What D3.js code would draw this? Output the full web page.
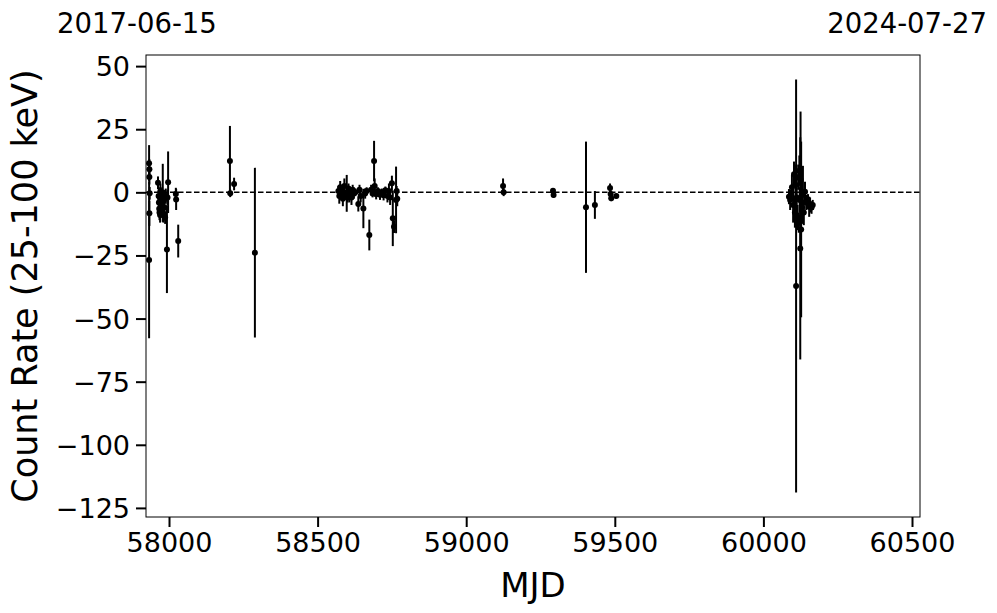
<!DOCTYPE html>
<html><head><meta charset="utf-8">
<script src="https://cdn.jsdelivr.net/npm/d3@7"></script>
<style>
body{margin:0;background:#fff;}
svg{display:block;font-family:"DejaVu Sans",sans-serif;}
</style></head>
<body><svg id="c" width="997" height="613"></svg>
<script>
// MJD of each observation
const mjd = [
 57933,57934,57934,57935,57934,57933,
 57963,57965,57966,57967,57968,57969,57970,57971,57972,57975,57977,57979,57981,57983,57985,57987,57989,57993,57997,57995,
 58023,58024,58031,
 58205,58206,58219,58289,
 58570,58573,58576,58579,58582,58585,58588,58590,58593,58598,58601,58604,58607,58610,58614,58618,58622,58627,58637,58641,58645,58654,58660,58665,58674,58680,58685,58690,58692,58697,58703,58710,58716,58722,58728,58735,58740,58744,58750,58753,58757,58764,58766,58768,
 59124,59126,59292,59294,59403,59433,59484,59486,59488,59505,
 60086,60090,60096,60100,60103,60106,60108,60110,60112,60115,60117,60119,60121,60122,60124,60125,60127,60130,60133,60136,60140,60144,60150,60154,60157,60162,60166
];
// count rate (25-100 keV)
const rate = [
 11.5,9.1,6.1,-0.4,-8.3,-26.8,
 3.8,-1.5,-4,-6.5,-8,-2,-9,0.5,-5,-7,-3,-0.2,-9,-3,-6,-10,-1.5,-22.6,4.0,-2,
 -0.7,-2.8,-19.3,
 12.4,-0.4,3.3,-23.9,
 0.5,-1.5,2,-0.5,1,-2.5,0,2.5,-1,-0.4,-2,1.5,-1,0.5,-2,1,-0.5,0,-4.6,1,-1.5,-6.4,-0.5,0.5,-16.9,1,-0.5,12.4,2.5,-0.8,0.5,-1,0,-1.2,0.8,-1.5,0.5,-2,3.6,-10.3,-13.6,-3,0.5,-2.5,
 2.5,0,0.6,-1.1,-5.9,-5,1.7,-0.7,-2.3,-1.5,
 -1.7,-3,2,-5,7.2,-8,3,-37.1,-2,-10,6,-12,8.6,-3,-22.2,5,-14.7,-6,-1,-8,0.2,-4,-3.7,-5.7,-5,-6,-5
];
// 1-sigma error
const err = [
 7.2,4,3,2.5,5,31,
 2.5,2,3,3,3,4,3,3,4,3,5,11.5,3,4,5,2.5,3,17.3,12.2,3,
 2.5,4.2,6.5,
 13.9,1.5,2.5,33.6,
 2,3,2.5,1.5,2,3,1.5,3,2,7.3,2,2,3,1.5,3,2,2,1.5,3,2,2.5,7.8,2,1.5,6.1,2,1.5,8,3,2,1.5,2,1.5,2,1.5,2.5,3,3,3,11,2.5,13.2,2,3,
 3,1.5,1,1,26,5.5,1.8,1.5,1.2,1,
 3,4,5,7,5,6,8,81.8,4,5,5,4,6,5,44,27,34.8,4,11.5,5,4,3,3,4,3,2.5,2
];
const xTicks = [58000,58500,59000,59500,60000,60500];
const yTicks = [50,25,0,-25,-50,-75,-100,-125];
const dateLabels = ["2017-06-15","2024-07-27"];

const L=146,R=920,T=55,B=517;
const x = d3.scaleLinear().domain([57922.6,60526.9]).range([L,R]);
const y = d3.scaleLinear().domain([-128.6,54.4]).range([B,T]);
const svg = d3.select("#c");
const data = mjd.map((m,i)=>({m, v:rate[i], e:err[i]}));

svg.append("clipPath").attr("id","cl").append("rect")
  .attr("x",L).attr("y",T).attr("width",R-L).attr("height",B-T);
const g = svg.append("g").attr("clip-path","url(#cl)");

g.append("line").attr("x1",L).attr("x2",R).attr("y1",y(0)).attr("y2",y(0))
  .attr("stroke","#000").attr("stroke-width",1.5).attr("stroke-dasharray","5.5,2.5");

g.selectAll("line.eb").data(data).enter().append("line").attr("class","eb")
  .attr("x1",d=>x(d.m)).attr("x2",d=>x(d.m))
  .attr("y1",d=>y(d.v+d.e)).attr("y2",d=>y(d.v-d.e))
  .attr("stroke","#000").attr("stroke-width",2);
g.selectAll("circle").data(data).enter().append("circle")
  .attr("cx",d=>x(d.m)).attr("cy",d=>y(d.v)).attr("r",3).attr("fill","#000");

const xa = svg.append("g").attr("transform",`translate(0,${B})`)
  .call(d3.axisBottom(x).tickValues(xTicks).tickSize(10).tickPadding(6).tickFormat(d3.format("d")));
const ya = svg.append("g").attr("transform",`translate(${L},0)`)
  .call(d3.axisLeft(y).tickValues(yTicks).tickSize(10).tickPadding(6).tickFormat(d=>d<0?"\u2212"+Math.abs(d):String(d)));
[xa,ya].forEach(a=>{
  a.select(".domain").remove();
  a.selectAll(".tick line").attr("stroke","#000").attr("stroke-width",2);
  a.selectAll(".tick text").attr("fill","#000").style("font-size","27px").style("font-family","DejaVu Sans");
});
ya.selectAll(".tick text").attr("dy","0.35em");

svg.append("rect").attr("x",L).attr("y",T).attr("width",R-L).attr("height",B-T)
  .attr("fill","none").attr("stroke","#000").attr("stroke-width",1);

svg.append("text").attr("x",(L+R)/2).attr("y",597).attr("text-anchor","middle")
  .style("font-size","34px").text("MJD");
svg.append("text").attr("transform",`translate(37,${(T+B)/2}) rotate(-90)`)
  .attr("text-anchor","middle").style("font-size","35px").text("Count Rate (25-100 keV)");
svg.append("text").attr("x",57).attr("y",33).style("font-size","27.5px").text(dateLabels[0]);
svg.append("text").attr("x",987).attr("y",33).attr("text-anchor","end").style("font-size","27.5px").text(dateLabels[1]);
</script></body></html>
